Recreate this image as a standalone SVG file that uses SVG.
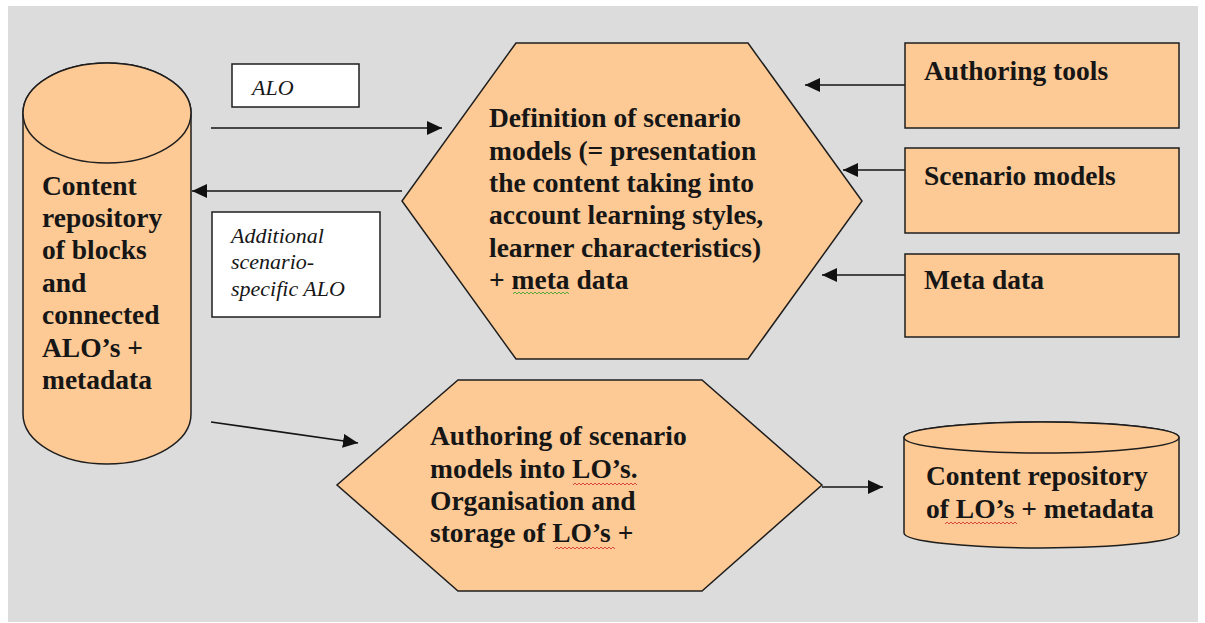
<svg xmlns="http://www.w3.org/2000/svg" width="1205" height="623" viewBox="0 0 1205 623">
  <style>
    .shape { fill: #fdc994; stroke: #1e1e1e; stroke-width: 1.5; }
    .label { fill: #fff; stroke: #1e1e1e; stroke-width: 1.5; }
    .t { font-family: "Liberation Serif", "Times New Roman", serif; font-weight: bold; font-size: 27.5px; fill: #161616; }
    .ti { font-family: "Liberation Serif", "Times New Roman", serif; font-style: italic; font-size: 22px; fill: #161616; }
    .edge { stroke: #141414; stroke-width: 1.6; fill: none; marker-end: url(#head); }
    .wave-red { stroke: #d9473a; stroke-width: 1; fill: none; }
    .wave-green { stroke: #5aa83a; stroke-width: 1; fill: none; }
  </style>
  <defs>
    <marker id="head" viewBox="0 0 15 14" refX="15" refY="7" markerWidth="15" markerHeight="14" markerUnits="userSpaceOnUse" orient="auto">
      <path d="M0,0 L15,7 L0,14 Z" fill="#111"/>
    </marker>
  </defs>

  <!-- canvas -->
  <rect x="8" y="6" width="1190" height="616" fill="#dcdcdc"/>

  <!-- connectors -->
  <g id="connectors">
    <line class="edge" x1="211" y1="128" x2="442" y2="128"/>
    <line class="edge" x1="402" y1="191" x2="192" y2="191"/>
    <line class="edge" x1="905" y1="85" x2="805" y2="85"/>
    <line class="edge" x1="905" y1="170" x2="843" y2="170"/>
    <line class="edge" x1="905" y1="275" x2="822" y2="275"/>
    <line class="edge" x1="211" y1="422" x2="358" y2="443"/>
    <line class="edge" x1="822" y1="487" x2="883" y2="487"/>
  </g>

  <!-- edge labels -->
  <g id="label-alo">
    <rect class="label" x="232" y="64" width="127" height="43"/>
    <text class="ti" x="252" y="95">ALO</text>
  </g>
  <g id="label-additional">
    <rect class="label" x="212" y="212" width="168" height="105"/>
    <text class="ti" x="231" y="243">Additional</text>
    <text class="ti" x="231" y="269">scenario-</text>
    <text class="ti" x="231" y="296">specific ALO</text>
  </g>

  <!-- block / ALO repository -->
  <g id="repo-alo">
    <path class="shape" d="M23,113 L23,414 A84,50 0 0 0 191,414 L191,113 A84,50 0 0 0 23,113 Z"/>
    <ellipse class="shape" cx="107" cy="113" rx="84" ry="50"/>
    <text class="t" x="42" y="195">Content</text>
    <text class="t" x="42" y="227">repository</text>
    <text class="t" x="42" y="259">of blocks</text>
    <text class="t" x="42" y="292">and</text>
    <text class="t" x="42" y="324">connected</text>
    <text class="t" x="42" y="357">ALO’s +</text>
    <text class="t" x="42" y="389">metadata</text>
  </g>

  <!-- scenario model definition -->
  <g id="define-scenarios">
    <polygon class="shape" points="516,43 748,43 862,201 748,359 516,359 402,201"/>
    <text class="t" x="489" y="127">Definition of scenario</text>
    <text class="t" x="489" y="160">models (= presentation</text>
    <text class="t" x="489" y="192">the content taking into</text>
    <text class="t" x="489" y="224">account learning styles,</text>
    <text class="t" x="489" y="257">learner characteristics)</text>
    <text class="t" x="489" y="289">+ meta data</text>
    <path class="wave-green" d="M513,294 l2,-2 l2,2 l2,-2 l2,2 l2,-2 l2,2 l2,-2 l2,2 l2,-2 l2,2 l2,-2 l2,2 l2,-2 l2,2 l2,-2 l2,2 l2,-2 l2,2 l2,-2 l2,2 l2,-2 l2,2 l2,-2 l2,2 l2,-2 l2,2 l2,-2 l2,2"/>
  </g>

  <!-- inputs -->
  <g id="authoring-tools">
    <rect class="shape" x="905" y="43" width="274" height="85"/>
    <text class="t" x="924" y="80">Authoring tools</text>
  </g>
  <g id="scenario-models">
    <rect class="shape" x="905" y="148" width="274" height="85"/>
    <text class="t" x="924" y="185">Scenario models</text>
  </g>
  <g id="meta-data">
    <rect class="shape" x="905" y="254" width="274" height="83"/>
    <text class="t" x="924" y="289">Meta data</text>
  </g>

  <!-- LO authoring -->
  <g id="author-los">
    <polygon class="shape" points="458,380 702,380 822,485 702,591 458,591 337,485"/>
    <text class="t" x="430" y="445">Authoring of scenario</text>
    <text class="t" x="430" y="478">models into LO’s.</text>
    <text class="t" x="430" y="510">Organisation and</text>
    <text class="t" x="430" y="542">storage of LO’s +</text>
    <path class="wave-red" d="M573,485 l2,-2 l2,2 l2,-2 l2,2 l2,-2 l2,2 l2,-2 l2,2 l2,-2 l2,2 l2,-2 l2,2 l2,-2 l2,2 l2,-2 l2,2 l2,-2 l2,2 l2,-2 l2,2 l2,-2 l2,2 l2,-2 l2,2 l2,-2 l2,2 l2,-2 l2,2 l2,-2 l2,2 l2,-2 l2,2"/>
    <path class="wave-red" d="M555,549 l2,-2 l2,2 l2,-2 l2,2 l2,-2 l2,2 l2,-2 l2,2 l2,-2 l2,2 l2,-2 l2,2 l2,-2 l2,2 l2,-2 l2,2 l2,-2 l2,2 l2,-2 l2,2 l2,-2 l2,2 l2,-2 l2,2 l2,-2 l2,2 l2,-2 l2,2 l2,-2 l2,2"/>
  </g>

  <!-- LO repository -->
  <g id="repo-lo">
    <path class="shape" d="M904,437.5 L904,533 A137.5,15 0 0 0 1179,533 L1179,437.5 A137.5,15.5 0 0 0 904,437.5 Z"/>
    <ellipse class="shape" cx="1041.5" cy="437.5" rx="137.5" ry="15.5"/>
    <text class="t" x="926" y="485">Content repository</text>
    <text class="t" x="926" y="518">of LO’s + metadata</text>
    <path class="wave-red" d="M945,524 l2,-2 l2,2 l2,-2 l2,2 l2,-2 l2,2 l2,-2 l2,2 l2,-2 l2,2 l2,-2 l2,2 l2,-2 l2,2 l2,-2 l2,2 l2,-2 l2,2 l2,-2 l2,2 l2,-2 l2,2 l2,-2 l2,2 l2,-2 l2,2 l2,-2 l2,2 l2,-2 l2,2 l2,-2 l2,2 l2,-2 l2,2 l2,-2 l2,2"/>
  </g>
</svg>
